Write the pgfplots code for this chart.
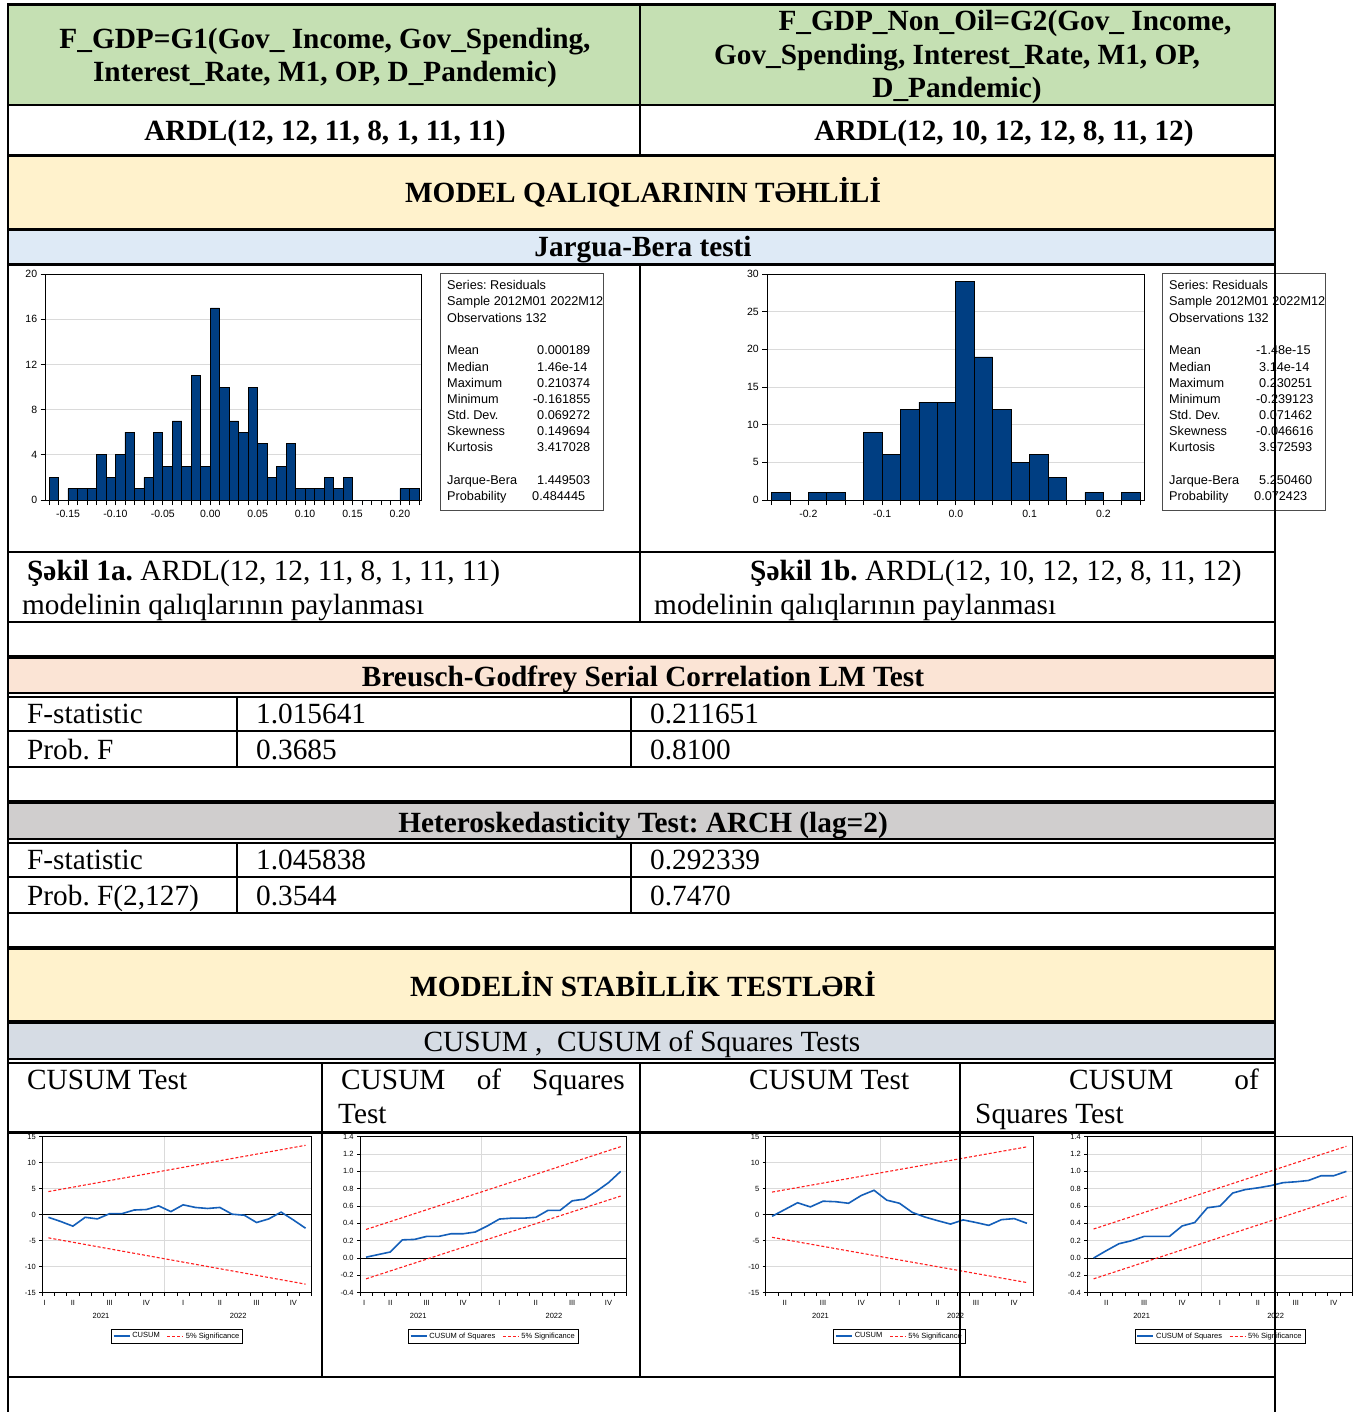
\documentclass[border=0pt]{standalone}
\usepackage{fontspec}
\setmainfont{Liberation Serif}
\setsansfont{Liberation Sans}
\usepackage{pgfplots}
\pgfplotsset{compat=1.18}
\definecolor{cgreen}{HTML}{C5E0B3}
\definecolor{cyellow}{HTML}{FFF2CC}
\definecolor{cblue}{HTML}{DEEAF6}
\definecolor{cpink}{HTML}{FBE4D5}
\definecolor{cgray}{HTML}{D0CECE}
\definecolor{cbg}{HTML}{D6DCE4}
\definecolor{histblue}{RGB}{0,62,130}
\definecolor{cusblue}{RGB}{20,95,185}
\definecolor{sigred}{RGB}{255,30,30}
\definecolor{gridgray}{RGB}{218,218,218}
\newcommand{\tf}{\fontsize{29.3}{33.7}\selectfont}
\newcommand{\statfont}{\fontsize{12.7}{15}\selectfont\sffamily}
\frenchspacing
\pgfplotsset{
 hist/.style={anchor=south west, scale only axis, height=226pt, ymin=0,
   tick align=outside, tick pos=left, major tick length=5pt, minor tick length=5pt,
   every tick/.style={black, line width=0.7pt},
   axis line style={black, line width=0.9pt},
   ymajorgrids, major grid style={gridgray, line width=1pt},
   ticklabel style={font=\fontsize{10.5}{12}\selectfont\sffamily},
   xticklabel style={yshift=-1.5pt},
   /pgf/number format/assume math mode=true},
 cus/.style={anchor=south west, scale only axis, height=156pt, xmax=24, clip=false,
   tick align=outside, tick pos=left, major tick length=3pt, minor tick length=3pt,
   every tick/.style={black, line width=0.6pt},
   axis line style={black, line width=0.8pt},
   ymajorgrids, xmajorgrids, major grid style={gridgray, line width=1.1pt},
   xtick={12}, xticklabels={}, minor xtick={2,3,...,24},
   ticklabel style={font=\fontsize{7.5}{9}\selectfont\sffamily},
   /pgf/number format/assume math mode=true,
   extra x tick style={grid=none, major tick length=0pt, xticklabel style={yshift=-4pt}},
   extra y ticks={0}, extra y tick labels={},
   extra y tick style={grid=major, major grid style={black, line width=0.8pt}},
   legend columns=2,
   legend style={at={(0.5,-0.278)}, anchor=center, draw=black, line width=0.6pt,
     font=\fontsize{7.5}{9}\selectfont\sffamily, inner sep=1.5pt,
     /tikz/every even column/.append style={column sep=5pt}},
   legend image code/.code={\draw[##1] (0pt,0pt) -- (16pt,0pt);}},
 cline/.style={cusblue, line width=1.6pt},
 sline/.style={sigred, line width=1.1pt, dash pattern=on 3pt off 2pt},
}
\begin{document}
\begin{tikzpicture}[x=1pt,y=1pt]
\useasboundingbox (0,0) rectangle (1359,-1412);
\fill[white] (0,0) rectangle (1359,-1412);
% backgrounds
\fill[cgreen] (8,-5) rectangle (1275,-105);
\fill[cyellow] (8,-156) rectangle (1275,-230);
\fill[cblue] (8,-230) rectangle (1275,-265);
\fill[cpink] (8,-657) rectangle (1275,-694);
\fill[cgray] (8,-802) rectangle (1275,-840);
\fill[cyellow] (8,-948) rectangle (1275,-1022);
\fill[cbg] (8,-1022) rectangle (1275,-1060);
% header texts
\begin{scope}[every node/.style={inner sep=0pt, anchor=base}]
\node[font=\tf\bfseries] at (325,-49) {F\_GDP=G1(Gov\_ Income, Gov\_Spending,};
\node[font=\tf\bfseries] at (325,-82) {Interest\_Rate, M1, OP, D\_Pandemic)};
\node[font=\tf\bfseries] at (1005,-31) {F\_GDP\_Non\_Oil=G2(Gov\_ Income,};
\node[font=\tf\bfseries] at (957,-65) {Gov\_Spending, Interest\_Rate, M1, OP,};
\node[font=\tf\bfseries] at (957,-98) {D\_Pandemic)};
\node[font=\tf\bfseries] at (325,-141) {ARDL(12, 12, 11, 8, 1, 11, 11)};
\node[font=\tf\bfseries] at (1004,-141) {ARDL(12, 10, 12, 12, 8, 11, 12)};
\node[font=\tf\bfseries] at (643,-203) {MODEL QALIQLARININ TƏHLİLİ};
\node[font=\tf\bfseries] at (643,-257) {Jargua-Bera testi};
\node[font=\tf\bfseries] at (643,-686) {Breusch-Godfrey Serial Correlation LM Test};
\node[font=\tf\bfseries] at (643,-832) {Heteroskedasticity Test: ARCH (lag=2)};
\node[font=\tf\bfseries] at (643,-996) {MODELİN STABİLLİK TESTLƏRİ};
\node[font=\tf] at (642,-1051) {CUSUM ,\ \ CUSUM of Squares Tests};
\end{scope}
\begin{scope}[every node/.style={inner sep=0pt, anchor=base west, font=\tf}]
\node at (27,-580) {\textbf{Şəkil 1a.} ARDL(12, 12, 11, 8, 1, 11, 11)};
\node at (22,-614) {modelinin qalıqlarının paylanması};
\node at (750,-580) {\textbf{Şəkil 1b.} ARDL(12, 10, 12, 12, 8, 11, 12)};
\node at (654,-614) {modelinin qalıqlarının paylanması};
\node at (27,-723) {F-statistic};
\node at (256,-723) {1.015641};
\node at (650,-723) {0.211651};
\node at (27,-759) {Prob. F};
\node at (256,-759) {0.3685};
\node at (650,-759) {0.8100};
\node at (27,-869) {F-statistic};
\node at (256,-869) {1.045838};
\node at (650,-869) {0.292339};
\node at (27,-905) {Prob. F(2,127)};
\node at (256,-905) {0.3544};
\node at (650,-905) {0.7470};
\node at (27,-1089) {CUSUM Test};
\node at (341,-1089) {CUSUM};
\node[anchor=base] at (489,-1089) {of};
\node[anchor=base east] at (625,-1089) {Squares};
\node at (338,-1123) {Test};
\node at (749,-1089) {CUSUM Test};
\node at (1069,-1089) {CUSUM};
\node[anchor=base east] at (1259,-1089) {of};
\node at (975,-1123) {Squares Test};
\end{scope}
% histogram 1
\begin{axis}[hist, at={(45.7pt,-500pt)}, width=375.3pt, xmin=-0.1735, xmax=0.2222, ymax=20,
 xtick={-0.15,-0.1,-0.05,0,0.05,0.1,0.15,0.2},
 xticklabels={-0.15,-0.10,-0.05,0.00,0.05,0.10,0.15,0.20},
 minor xtick={-0.17,-0.16,...,0.225},
 ytick={0,4,8,12,16,20}]
\addplot[ybar interval, fill=histblue, draw=black, line width=0.7pt] table[x=x,y=y] {
x y
-0.17 2
-0.16 0
-0.15 1
-0.14 1
-0.13 1
-0.12 4
-0.11 2
-0.10 4
-0.09 6
-0.08 1
-0.07 2
-0.06 6
-0.05 3
-0.04 7
-0.03 3
-0.02 11
-0.01 3
0.00 17
0.01 10
0.02 7
0.03 6
0.04 10
0.05 5
0.06 2
0.07 3
0.08 5
0.09 1
0.10 1
0.11 1
0.12 2
0.13 1
0.14 2
0.15 0
0.16 0
0.17 0
0.18 0
0.19 0
0.20 1
0.21 1
0.22 0
};
\end{axis}
% histogram 2
\begin{axis}[hist, at={(767.3pt,-500pt)}, width=376.7pt, xmin=-0.2556, xmax=0.2552, ymax=30,
 xtick={-0.2,-0.1,0,0.1,0.2},
 xticklabels={-0.2,-0.1,0.0,0.1,0.2},
 minor xtick={-0.25,-0.225,...,0.26},
 ytick={0,5,10,15,20,25,30}]
\addplot[ybar interval, fill=histblue, draw=black, line width=0.7pt] table[x=x,y=y] {
x y
-0.25 1
-0.225 0
-0.2 1
-0.175 1
-0.15 0
-0.125 9
-0.1 6
-0.075 12
-0.05 13
-0.025 13
0 29
0.025 19
0.05 12
0.075 5
0.1 6
0.125 3
0.15 0
0.175 1
0.2 0
0.225 1
0.25 0
};
\end{axis}
% stats boxes
\draw[black!70, line width=1pt] (440,-274) rectangle (603,-510);
\draw[black!70, line width=1pt] (1162,-274) rectangle (1325,-510);
\begin{scope}[every node/.style={inner sep=0pt, anchor=base west, font=\statfont}]
\node at (447,-289.5) {Series: Residuals};
\node at (447,-305.5) {Sample 2012M01 2022M12};
\node at (447,-322.5) {Observations 132};
\node at (447,-354.5) {Mean};      \node at (537,-354.5) {0.000189};
\node at (447,-371.5) {Median};    \node at (537,-371.5) {1.46e-14};
\node at (447,-387.5) {Maximum};   \node at (537,-387.5) {0.210374};
\node at (447,-403.5) {Minimum};   \node at (533,-403.5) {-0.161855};
\node at (447,-419.5) {Std. Dev.}; \node at (537,-419.5) {0.069272};
\node at (447,-435.5) {Skewness};  \node at (537,-435.5) {0.149694};
\node at (447,-451.5) {Kurtosis};  \node at (537,-451.5) {3.417028};
\node at (447,-484.5) {Jarque-Bera}; \node at (537,-484.5) {1.449503};
\node at (447,-500.5) {Probability}; \node at (532,-500.5) {0.484445};
\node at (1169,-289.5) {Series: Residuals};
\node at (1169,-305.5) {Sample 2012M01 2022M12};
\node at (1169,-322.5) {Observations 132};
\node at (1169,-354.5) {Mean};      \node at (1256,-354.5) {-1.48e-15};
\node at (1169,-371.5) {Median};    \node at (1259,-371.5) {3.14e-14};
\node at (1169,-387.5) {Maximum};   \node at (1259,-387.5) {0.230251};
\node at (1169,-403.5) {Minimum};   \node at (1256,-403.5) {-0.239123};
\node at (1169,-419.5) {Std. Dev.}; \node at (1259,-419.5) {0.071462};
\node at (1169,-435.5) {Skewness};  \node at (1256,-435.5) {-0.046616};
\node at (1169,-451.5) {Kurtosis};  \node at (1259,-451.5) {3.972593};
\node at (1169,-484.5) {Jarque-Bera}; \node at (1259,-484.5) {5.250460};
\node at (1169,-500.5) {Probability}; \node at (1254,-500.5) {0.072423};
\end{scope}
% CUSUM 1
\begin{axis}[cus, at={(42.3pt,-1292.7pt)}, width=269.4pt, xmin=2, ymin=-15, ymax=15,
 ytick={-15,-10,-5,0,5,10,15},
 extra x ticks={2.2,4.5,7.5,10.5,13.5,16.5,19.5,22.5},
 extra x tick labels={I,II,III,IV,I,II,III,IV}]
\addplot[cline] table {
2.5 -0.5
3.5 -1.3
4.5 -2.2
5.5 -0.5
6.5 -0.8
7.5 0.2
8.5 0.2
9.5 0.9
10.5 1.0
11.5 1.7
12.5 0.6
13.5 1.9
14.5 1.4
15.5 1.2
16.5 1.4
17.5 0.1
18.5 -0.1
19.5 -1.5
20.5 -0.8
21.5 0.5
22.5 -1.0
23.5 -2.6
};
\addlegendentry{CUSUM}
\addplot[sline] coordinates {(2.5,4.45) (23.5,13.35)};
\addlegendentry{5\% Significance}
\addplot[sline, forget plot] coordinates {(2.5,-4.45) (23.5,-13.35)};
\node[font=\fontsize{7.5}{9}\selectfont\sffamily, yshift=-23pt] at (axis cs:6.8,-15) {2021};
\node[font=\fontsize{7.5}{9}\selectfont\sffamily, yshift=-23pt] at (axis cs:18,-15) {2022};
\end{axis}
% CUSUMSQ 1
\begin{axis}[cus, at={(360pt,-1292.7pt)}, width=266.7pt, xmin=2, ymin=-0.4, ymax=1.4,
 ytick={-0.4,-0.2,0,0.2,0.4,0.6,0.8,1.0,1.2,1.4},
 yticklabels={-0.4,-0.2,0.0,0.2,0.4,0.6,0.8,1.0,1.2,1.4},
 extra x ticks={2.35,4.5,7.5,10.5,13.5,16.5,19.5,22.5},
 extra x tick labels={I,II,III,IV,I,II,III,IV}]
\addplot[cline] table {
2.5 0.01
3.5 0.04
4.5 0.07
5.5 0.21
6.5 0.215
7.5 0.25
8.5 0.25
9.5 0.28
10.5 0.28
11.5 0.30
12.5 0.37
13.5 0.45
14.5 0.46
15.5 0.46
16.5 0.47
17.5 0.55
18.5 0.55
19.5 0.66
20.5 0.68
21.5 0.77
22.5 0.87
23.5 1.0
};
\addlegendentry{CUSUM of Squares}
\addplot[sline] coordinates {(2.5,0.33) (23.5,1.285)};
\addlegendentry{5\% Significance}
\addplot[sline, forget plot] coordinates {(2.5,-0.24) (23.5,0.715)};
\node[font=\fontsize{7.5}{9}\selectfont\sffamily, yshift=-23pt] at (axis cs:6.8,-0.4) {2021};
\node[font=\fontsize{7.5}{9}\selectfont\sffamily, yshift=-23pt] at (axis cs:18,-0.4) {2022};
\end{axis}
% CUSUM 2
\begin{axis}[cus, at={(765.7pt,-1292.7pt)}, width=267.6pt, xmin=3, ymin=-15, ymax=15,
 ytick={-15,-10,-5,0,5,10,15}, minor xtick={3,4,...,24},
 extra x ticks={4.5,7.5,10.5,13.5,16.5,19.5,22.5},
 extra x tick labels={II,III,IV,I,II,III,IV}]
\addplot[cline] table {
3.5 -0.3
4.5 1.0
5.5 2.3
6.5 1.5
7.5 2.6
8.5 2.5
9.5 2.2
10.5 3.7
11.5 4.7
12.5 2.8
13.5 2.2
14.5 0.45
15.5 -0.45
16.5 -1.15
17.5 -1.8
18.5 -1.0
19.5 -1.5
20.5 -2.05
21.5 -0.95
22.5 -0.75
23.5 -1.65
};
\addlegendentry{CUSUM}
\addplot[sline] coordinates {(3.5,4.35) (23.5,13.05)};
\addlegendentry{5\% Significance}
\addplot[sline, forget plot] coordinates {(3.5,-4.35) (23.5,-13.05)};
\node[font=\fontsize{7.5}{9}\selectfont\sffamily, yshift=-23pt] at (axis cs:7.3,-15) {2021};
\node[font=\fontsize{7.5}{9}\selectfont\sffamily, yshift=-23pt] at (axis cs:17.9,-15) {2022};
\end{axis}
% CUSUMSQ 2
\begin{axis}[cus, at={(1087.3pt,-1292.7pt)}, width=265.4pt, xmin=3, ymin=-0.4, ymax=1.4,
 ytick={-0.4,-0.2,0,0.2,0.4,0.6,0.8,1.0,1.2,1.4},
 yticklabels={-0.4,-0.2,0.0,0.2,0.4,0.6,0.8,1.0,1.2,1.4}, minor xtick={3,4,...,24},
 extra x ticks={4.5,7.5,10.5,13.5,16.5,19.5,22.5},
 extra x tick labels={II,III,IV,I,II,III,IV}]
\addplot[cline] table {
3.5 0.0
4.5 0.085
5.5 0.165
6.5 0.20
7.5 0.25
8.5 0.25
9.5 0.25
10.5 0.37
11.5 0.41
12.5 0.58
13.5 0.60
14.5 0.75
15.5 0.79
16.5 0.81
17.5 0.835
18.5 0.87
19.5 0.88
20.5 0.895
21.5 0.95
22.5 0.95
23.5 1.0
};
\addlegendentry{CUSUM of Squares}
\addplot[sline] coordinates {(3.5,0.335) (23.5,1.29)};
\addlegendentry{5\% Significance}
\addplot[sline, forget plot] coordinates {(3.5,-0.24) (23.5,0.715)};
\node[font=\fontsize{7.5}{9}\selectfont\sffamily, yshift=-23pt] at (axis cs:7.3,-0.4) {2021};
\node[font=\fontsize{7.5}{9}\selectfont\sffamily, yshift=-23pt] at (axis cs:17.9,-0.4) {2022};
\end{axis}
% table borders
\foreach \y/\w in {5/3,105/2,156/3,230/3,265/3,552/2,622/2,657/4,693/1.5,697/1.5,731/2,767/2,802/4,839/1.5,843/1.5,877/2,913/2,948/4,1022/4,1059/1.5,1063/1.5,1132/3,1377/2}
  \draw[line width=\w] (7,-\y) -- (1276,-\y);
\draw[line width=2] (8,-5) -- (8,-1412);
\draw[line width=2] (1275,-5) -- (1275,-1412);
\draw[line width=2] (640,-5) -- (640,-156);
\draw[line width=2] (640,-265) -- (640,-622);
\draw[line width=2] (237,-697) -- (237,-767);
\draw[line width=2] (631,-697) -- (631,-767);
\draw[line width=2] (237,-843) -- (237,-913);
\draw[line width=2] (631,-843) -- (631,-913);
\draw[line width=2] (322,-1063) -- (322,-1377);
\draw[line width=2] (640,-1063) -- (640,-1377);
\draw[line width=2] (960,-1063) -- (960,-1377);
\end{tikzpicture}
\end{document}
